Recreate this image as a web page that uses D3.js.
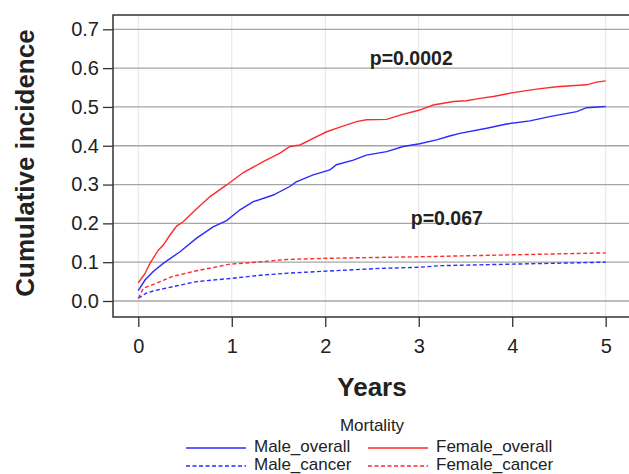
<!DOCTYPE html>
<html>
<head>
<meta charset="utf-8">
<script src="https://cdn.jsdelivr.net/npm/d3@7"></script>
<style>
  body { margin: 0; background: #fff; }
  text { font-family: "Liberation Sans", Arial, sans-serif; fill: #222; }
</style>
</head>
<body>
<script>
// Data (years, cumulative incidence)
let maleOverallT = [0, 0.072, 0.16, 0.267, 0.446, 0.624, 0.80, 0.945, 1.088, 1.23, 1.444, 1.62, 1.69, 1.87, 2.05, 2.12, 2.3, 2.44, 2.657, 2.834, 3.01, 3.19, 3.33, 3.44, 3.726, 3.94, 4.19, 4.4, 4.69, 4.796, 5.0];
let maleOverallV = [0.027, 0.054, 0.076, 0.097, 0.127, 0.162, 0.191, 0.207, 0.235, 0.256, 0.273, 0.295, 0.307, 0.325, 0.338, 0.351, 0.363, 0.376, 0.385, 0.398, 0.405, 0.415, 0.425, 0.432, 0.445, 0.456, 0.464, 0.475, 0.488, 0.498, 0.501];

let femaleOverallT = [0, 0.072, 0.125, 0.214, 0.267, 0.339, 0.41, 0.48, 0.59, 0.767, 0.945, 1.123, 1.337, 1.515, 1.622, 1.73, 1.87, 2.015, 2.157, 2.335, 2.44, 2.657, 2.8, 3.01, 3.155, 3.37, 3.51, 3.655, 3.797, 4.01, 4.26, 4.475, 4.796, 4.9, 5.0];
let femaleOverallV = [0.047, 0.071, 0.097, 0.131, 0.144, 0.170, 0.193, 0.204, 0.230, 0.269, 0.299, 0.331, 0.359, 0.381, 0.398, 0.402, 0.419, 0.436, 0.448, 0.462, 0.467, 0.468, 0.479, 0.492, 0.505, 0.514, 0.516, 0.522, 0.527, 0.537, 0.546, 0.552, 0.557, 0.564, 0.567];

let maleCancerT = [0, 0.09, 0.197, 0.374, 0.624, 0.98, 1.337, 1.62, 2.015, 2.585, 3.01, 3.227, 4.01, 5.0];
let maleCancerV = [0.007, 0.021, 0.028, 0.037, 0.050, 0.058, 0.067, 0.072, 0.077, 0.084, 0.087, 0.091, 0.095, 0.100];

let femaleCancerT = [0, 0.054, 0.197, 0.374, 0.624, 0.838, 0.98, 1.266, 1.587, 2.015, 3.01, 4.01, 5.0];
let femaleCancerV = [0.007, 0.033, 0.046, 0.064, 0.078, 0.088, 0.095, 0.100, 0.107, 0.110, 0.114, 0.119, 0.124];

let xTicks = [0, 1, 2, 3, 4, 5];
let yTicks = [0, 0.1, 0.2, 0.3, 0.4, 0.5, 0.6, 0.7];
let seriesNames = ["Male_overall", "Female_overall", "Male_cancer", "Female_cancer"];
let pLabels = ["p=0.0002", "p=0.067"];

let svgWidth = 629;
let svgHeight = 474;

let margin = { top: 15, left: 113 };
let width = 522;   // frame runs past the right edge of the picture
let height = 302;

let svg = d3.select("body")
    .append("svg")
    .attr("width", svgWidth)
    .attr("height", svgHeight);

let chartGroup = svg.append("g")
    .attr("transform", `translate(${margin.left}, ${margin.top})`);

// Scales
let xScale = d3.scaleLinear()
    .domain([0, 5])
    .range([25.3, 492.7]);

let yScale = d3.scaleLinear()
    .domain([0, 0.7])
    .range([286, 14.3]);

// Grid lines
chartGroup.selectAll(".vgrid")
    .data(xTicks)
    .enter()
    .append("line")
    .attr("x1", d => xScale(d))
    .attr("x2", d => xScale(d))
    .attr("y1", 0)
    .attr("y2", height)
    .attr("stroke", "#e3e3e3")
    .attr("stroke-width", 1);

chartGroup.selectAll(".hgrid")
    .data(yTicks)
    .enter()
    .append("line")
    .attr("x1", 0)
    .attr("x2", width)
    .attr("y1", d => yScale(d))
    .attr("y2", d => yScale(d))
    .attr("stroke", "#a6a6a6")
    .attr("stroke-width", 1.3);

// Axes
let bottomAxis = d3.axisBottom(xScale)
    .tickValues(xTicks)
    .tickSize(10)
    .tickPadding(12)
    .tickFormat(d3.format("d"));

let leftAxis = d3.axisLeft(yScale)
    .tickValues(yTicks)
    .tickSize(10)
    .tickPadding(4)
    .tickFormat(d3.format(".1f"));

let xAxisG = chartGroup.append("g")
    .attr("transform", `translate(0, ${height})`)
    .call(bottomAxis);

let yAxisG = chartGroup.append("g")
    .call(leftAxis);

[xAxisG, yAxisG].forEach(g => {
    g.select(".domain").remove();
    g.selectAll(".tick line").attr("stroke", "#333").attr("stroke-width", 1.3);
    g.selectAll(".tick text")
        .attr("font-size", 20)
        .attr("font-family", "Liberation Sans, Arial, sans-serif")
        .attr("fill", "#222");
});

// Frame
chartGroup.append("rect")
    .attr("x", 0)
    .attr("y", 0)
    .attr("width", width)
    .attr("height", height)
    .attr("fill", "none")
    .attr("stroke", "#333")
    .attr("stroke-width", 1.5);

// Lines
let line = d3.line()
    .x(d => xScale(d[0]))
    .y(d => yScale(d[1]));

let series = [
    { name: seriesNames[0], t: maleOverallT, v: maleOverallV, color: "#2b2bff", dash: null },
    { name: seriesNames[1], t: femaleOverallT, v: femaleOverallV, color: "#ff2b2b", dash: null },
    { name: seriesNames[2], t: maleCancerT, v: maleCancerV, color: "#2b2bff", dash: "4,2.5" },
    { name: seriesNames[3], t: femaleCancerT, v: femaleCancerV, color: "#ff2b2b", dash: "4,2.5" }
];

series.forEach(s => {
    chartGroup.append("path")
        .datum(d3.zip(s.t, s.v))
        .attr("d", line)
        .attr("fill", "none")
        .attr("stroke", s.color)
        .attr("stroke-width", 1.4)
        .attr("stroke-dasharray", s.dash);
});

// p-values
chartGroup.append("text")
    .attr("x", xScale(2.92))
    .attr("y", yScale(0.608))
    .attr("text-anchor", "middle")
    .attr("font-weight", "bold")
    .attr("font-size", 19.5)
    .attr("fill", "#111")
    .text(pLabels[0]);

chartGroup.append("text")
    .attr("x", xScale(3.3))
    .attr("y", yScale(0.196))
    .attr("text-anchor", "middle")
    .attr("font-weight", "bold")
    .attr("font-size", 19.5)
    .attr("fill", "#111")
    .text(pLabels[1]);

// Axis titles
svg.append("text")
    .attr("transform", "rotate(-90)")
    .attr("x", -163)
    .attr("y", 34)
    .attr("text-anchor", "middle")
    .attr("font-weight", "bold")
    .attr("font-size", 26)
    .attr("fill", "#111")
    .text("Cumulative incidence");

svg.append("text")
    .attr("x", 372)
    .attr("y", 396)
    .attr("text-anchor", "middle")
    .attr("font-weight", "bold")
    .attr("font-size", 26)
    .attr("fill", "#111")
    .text("Years");

// Legend
svg.append("text")
    .attr("x", 372)
    .attr("y", 427)
    .attr("text-anchor", "middle")
    .attr("dominant-baseline", "middle")
    .attr("font-size", 17)
    .text("Mortality");

let legendCols = [186, 368];
let legendRows = [448, 466];

let legend = svg.selectAll(".legend")
    .data(series)
    .enter()
    .append("g")
    .classed("legend", true)
    .attr("transform", (d, i) => `translate(${legendCols[i % 2]}, ${legendRows[Math.floor(i / 2)]})`);

legend.append("line")
    .attr("x1", 0)
    .attr("x2", 60)
    .attr("y1", 0)
    .attr("y2", 0)
    .attr("stroke", d => d.color)
    .attr("stroke-width", 1.4)
    .attr("stroke-dasharray", d => d.dash);

legend.append("text")
    .attr("x", 68)
    .attr("y", 0)
    .attr("dominant-baseline", "middle")
    .attr("font-size", 17)
    .text(d => d.name);
</script>
</body>
</html>
